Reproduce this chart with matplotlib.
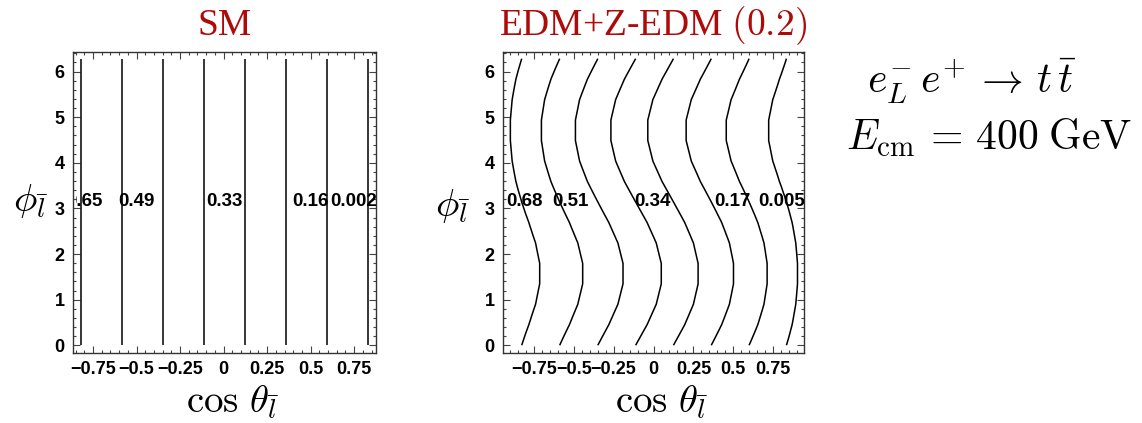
import numpy as np
import matplotlib
matplotlib.use("Agg")
import matplotlib.pyplot as plt
from matplotlib.ticker import FixedLocator, FixedFormatter, MultipleLocator
from matplotlib.transforms import Bbox, TransformedBbox

plt.rcParams['mathtext.fontset'] = 'cm'

# contour levels (cos theta where each line crosses phi = 0)
sm_levels = [-0.819, -0.584, -0.348, -0.112, 0.1255, 0.360, 0.596, 0.832]
edm_levels = [-0.826, -0.588, -0.349, -0.112, 0.125, 0.362, 0.599, 0.833]
edm_strength = 0.165   # size of the phi modulation from the EDM couplings

# contour labels and where they sit along cos theta (at phi = pi)
sm_labels = ['0.65', '0.49', '0.33', '0.16', '0.002']
sm_label_x = [-0.80, -0.502, 0.007, 0.50, 0.747]
edm_labels = ['0.68', '0.51', '0.34', '0.17', '0.005']
edm_label_x = [-0.809, -0.518, -0.006, 0.497, 0.80]

xticks = [-0.75, -0.5, -0.25, 0, 0.25, 0.5, 0.75]
xtick_labels = ['\u22120.75', '\u22120.5', '\u22120.25', '0', '0.25', '0.5', '0.75']
yticks = [0, 1, 2, 3, 4, 5, 6]

title_color = '#ad0a0a'
bold_sans = dict(family='Liberation Sans', weight='bold')


def style_axes(ax, xlim):
    ax.set_xlim(*xlim)
    ax.set_ylim(-0.17, 6.43)
    ax.xaxis.set_major_locator(FixedLocator(xticks))
    ax.xaxis.set_major_formatter(FixedFormatter(xtick_labels))
    ax.xaxis.set_minor_locator(MultipleLocator(0.05))
    ax.yaxis.set_major_locator(FixedLocator(yticks))
    ax.yaxis.set_minor_locator(MultipleLocator(0.2))
    ax.tick_params(which='both', direction='in', top=True, right=True,
                   color='#444444', width=0.8, labelsize=13)
    ax.tick_params(which='major', length=5, pad=6)
    ax.tick_params(which='minor', length=2.5)
    for lab in ax.get_xticklabels() + ax.get_yticklabels():
        lab.set_fontfamily('Liberation Sans')
        lab.set_fontweight('bold')
    for s in ax.spines.values():
        s.set_linewidth(1.0)
        s.set_color('#333333')
    ax.set_xlabel(r'$\cos\,\theta_{\bar{l}}$', fontsize=28, va='baseline')
    ax.xaxis.set_label_coords(0.527, -0.196)
    ax.set_ylabel(r'$\phi_{\bar{l}}$', fontsize=28, rotation=0,
                  ha='center', va='center')


fig = plt.figure(figsize=(11.42, 4.23), dpi=100)
ax1 = fig.add_axes([0.0639, 0.1655, 0.2653, 0.7116])
ax2 = fig.add_axes([0.4402, 0.1655, 0.2641, 0.7116])

phi = np.linspace(0, 2 * np.pi, 15)

# SM: no dependence on phi
xs = np.linspace(-0.865, 0.875, 80)
X, P = np.meshgrid(xs, phi)
ax1.contour(X, P, X, levels=sm_levels, colors='k', linewidths=1.1,
            linestyles='solid')
style_axes(ax1, (-0.865, 0.875))
ax1.yaxis.set_label_coords(-0.14, 0.505)
ax1.set_title('SM', fontsize=27, family='Liberation Serif',
              color=title_color, pad=12)
for i, (txt, x) in enumerate(zip(sm_labels, sm_label_x)):
    t = ax1.text(x, np.pi, txt, ha='center', va='center', fontsize=13.5,
                 **bold_sans)
    if i == 0:
        # first label is cut off just left of its contour line
        t.set_clip_box(TransformedBbox(Bbox([[-0.845, -1], [1, 7]]),
                                       ax1.transData))
        t.set_clip_on(True)

# EDM + Z-EDM: lines modulated in phi
xs = np.linspace(-0.945, 0.945, 80)
X, P = np.meshgrid(xs, phi)
F = X - edm_strength * np.sqrt(1 - X ** 2) * np.sin(P)
ax2.contour(X, P, F, levels=edm_levels, colors='k', linewidths=1.1,
            linestyles='solid')
style_axes(ax2, (-0.945, 0.945))
ax2.yaxis.set_label_coords(-0.165, 0.49)
ax2.set_title(r'EDM+Z-EDM $(0.2)$', fontsize=27, family='Liberation Serif',
              color=title_color, pad=12)
for txt, x in zip(edm_labels, edm_label_x):
    ax2.text(x, np.pi, txt, ha='center', va='center', fontsize=13.5,
             **bold_sans)

# process and energy
fig.text(0.851, (423 - 93) / 423, r'$e^{-}_{L}\,e^{+}\,\rightarrow\,t\,\bar{t}$',
         fontsize=30, ha='center', va='baseline')
fig.text(0.866, (423 - 150) / 423, r'$E_{\rm cm}\,=\,400\;{\rm GeV}$',
         fontsize=30, ha='center', va='baseline')

fig.savefig('out.png', dpi=100)
